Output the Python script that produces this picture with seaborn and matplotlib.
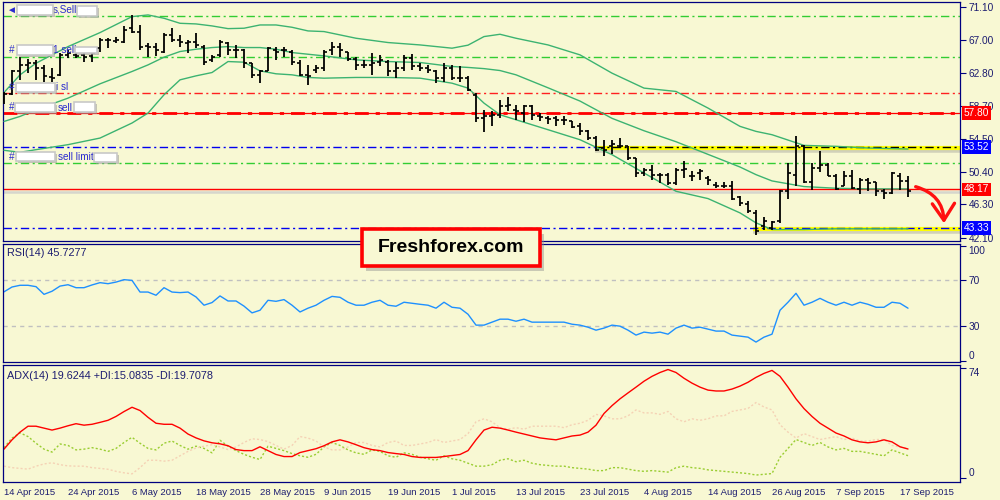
import numpy as np
import pandas as pd
import matplotlib
matplotlib.use("Agg")
import matplotlib.pyplot as plt
import matplotlib.transforms as mtransforms
from matplotlib.patches import Rectangle, FancyArrowPatch
import seaborn as sns

# ---------------- data ----------------
opens = [59.43, 60.10, 62.99, 63.82, 64.03, 63.41, 62.28, 62.57, 65.08, 65.08,
         65.08, 64.95, 65.92, 66.96, 66.88, 66.75, 68.43, 68.01, 66.21, 66.12,
         65.50, 67.59, 66.96, 66.54, 66.75, 66.12, 64.45, 65.08, 66.54, 65.71,
         65.71, 64.03, 62.57, 63.11, 65.71, 65.71, 65.50, 64.03, 62.57, 63.20,
         63.41, 65.71, 66.12, 65.50, 64.54, 63.82, 63.82, 64.24, 64.24, 62.99,
         63.41, 64.66, 63.62, 63.41, 63.11, 62.15, 63.41, 62.15, 62.15, 60.06,
         57.13, 57.34, 57.55, 58.68, 58.18, 57.76, 58.60, 57.42, 57.13, 57.13,
         56.92, 56.71, 56.17, 55.46, 54.62, 53.37, 53.58, 53.66, 53.58, 52.11,
         50.23, 50.65, 50.02, 50.02, 48.98, 50.65, 49.81, 50.23, 49.61, 48.77,
         48.64, 48.56, 47.22, 46.38, 45.21, 43.54, 43.33, 44.17, 47.93, 50.02,
         53.58, 49.06, 50.86, 51.28, 49.90, 48.56, 49.81, 48.23, 49.40, 49.06,
         47.93, 47.72, 49.90, 49.19]
highs = [60.35, 63.20, 64.87, 64.54, 64.45, 63.82, 63.41, 65.29, 65.71, 65.50,
         65.71, 65.71, 67.17, 67.17, 67.38, 68.72, 70.10, 68.84, 66.54, 66.54,
         67.80, 68.43, 67.59, 66.96, 67.80, 66.33, 65.08, 66.96, 66.75, 66.33,
         65.79, 64.03, 63.20, 66.12, 66.12, 66.12, 65.71, 64.45, 63.82, 63.82,
         65.71, 66.75, 66.63, 65.50, 64.87, 64.45, 65.37, 65.08, 64.45, 64.24,
         65.08, 65.20, 64.03, 63.82, 63.20, 64.03, 63.82, 63.62, 62.36, 60.27,
         58.18, 57.97, 59.43, 59.77, 58.81, 58.81, 58.81, 57.76, 57.34, 57.42,
         57.34, 56.71, 56.51, 55.59, 54.83, 54.41, 54.41, 54.62, 53.66, 52.11,
         50.86, 51.28, 50.23, 50.23, 50.86, 51.70, 50.44, 50.73, 49.81, 49.06,
         49.06, 49.19, 47.39, 46.68, 45.55, 44.71, 44.17, 48.14, 51.49, 54.83,
         53.79, 51.49, 52.95, 51.49, 50.15, 50.44, 50.65, 49.61, 49.61, 49.06,
         48.23, 50.31, 50.23, 49.90]
lows = [58.93, 60.06, 61.94, 62.78, 61.94, 61.73, 61.73, 62.36, 64.66, 64.66,
        64.24, 64.24, 65.50, 65.92, 66.54, 66.63, 67.80, 65.71, 64.79, 64.95,
        65.29, 66.75, 66.12, 65.29, 65.92, 63.82, 64.24, 64.87, 65.08, 64.66,
        63.41, 62.15, 61.52, 62.99, 64.45, 64.87, 63.82, 62.36, 61.31, 62.78,
        63.11, 65.08, 64.87, 64.37, 63.20, 63.41, 62.57, 63.62, 62.36, 62.15,
        62.99, 63.20, 62.99, 62.78, 61.52, 61.73, 61.94, 61.73, 60.48, 56.59,
        55.33, 56.09, 57.13, 57.97, 56.92, 56.59, 56.92, 56.71, 56.42, 56.17,
        56.30, 55.88, 55.04, 54.41, 52.95, 52.41, 52.66, 53.37, 51.82, 49.73,
        49.90, 49.40, 48.98, 48.77, 48.77, 49.61, 49.19, 49.40, 48.77, 48.35,
        48.35, 46.89, 46.13, 45.21, 42.49, 43.12, 43.04, 43.96, 46.97, 48.56,
        48.98, 48.14, 50.31, 49.81, 48.14, 48.56, 48.23, 47.64, 47.93, 47.30,
        46.97, 47.60, 48.14, 47.22]
closes = [60.10, 62.99, 63.82, 64.03, 63.41, 62.36, 62.15, 65.08, 65.29, 64.95,
          64.87, 65.29, 66.96, 66.96, 66.96, 68.22, 68.01, 66.12, 66.12, 65.71,
          67.59, 66.96, 66.75, 66.75, 66.33, 64.24, 64.79, 66.75, 65.71, 65.71,
          64.03, 62.57, 62.99, 65.92, 65.50, 65.71, 64.24, 62.57, 62.36, 63.41,
          65.50, 66.12, 65.71, 64.54, 63.82, 63.82, 64.03, 64.45, 62.99, 63.41,
          64.66, 63.62, 63.41, 63.20, 62.15, 63.41, 62.15, 62.15, 60.69, 57.13,
          57.34, 57.55, 58.68, 58.81, 57.97, 58.68, 57.55, 57.26, 57.01, 56.92,
          56.92, 56.00, 55.46, 54.62, 53.16, 53.16, 53.91, 53.58, 52.11, 50.23,
          50.65, 50.02, 50.02, 48.98, 50.65, 50.73, 49.81, 50.44, 49.40, 48.64,
          48.56, 46.97, 46.47, 45.42, 42.91, 44.17, 44.04, 47.93, 50.23, 53.58,
          49.06, 50.86, 51.28, 49.90, 48.23, 49.81, 48.35, 49.40, 48.98, 47.93,
          47.72, 50.23, 49.19, 47.93]

# Bollinger bands (20,2) read at sampled bars
bb_bar = [0, 2, 4, 8, 12, 16, 18, 20, 22, 24, 26, 28, 30, 32, 34, 36, 38, 40, 44,
          48, 52, 56, 58, 60, 62, 64, 68, 72, 76, 80, 84, 88, 92, 94, 96, 100,
          104, 108, 113]
bb_upper = [60.35, 62.57, 64.03, 66.12, 67.88, 69.89, 70.10, 69.68, 69.05, 68.97,
            68.72, 68.38, 68.43, 68.84, 68.84, 68.55, 68.09, 68.01, 67.17, 66.63,
            66.33, 65.92, 66.30, 67.38, 67.67, 67.17, 66.33, 65.08, 62.78, 60.90,
            60.48, 58.39, 56.09, 55.46, 55.04, 53.70, 53.58, 53.37, 53.24]
bb_middle = [56.71, 57.34, 58.18, 59.64, 61.44, 62.99, 63.82, 64.79, 65.50, 65.79,
             66.00, 66.12, 66.00, 66.00, 65.79, 65.37, 65.16, 64.95, 64.45, 64.24,
             64.12, 63.62, 63.50, 63.35, 63.11, 62.57, 60.94, 59.27, 57.10, 55.54,
             54.16, 52.57, 50.98, 50.02, 49.23, 48.52, 48.31, 48.23, 48.23]
bb_lower = [53.08, 52.83, 53.16, 53.79, 54.62, 56.51, 57.76, 60.06, 61.94, 62.44,
            62.86, 64.24, 64.16, 63.07, 62.70, 62.57, 62.24, 62.15, 62.24, 62.24,
            62.15, 61.52, 60.90, 59.01, 57.55, 56.92, 55.67, 54.41, 52.53, 50.23,
            47.93, 47.01, 45.21, 43.96, 43.12, 43.12, 43.21, 43.21, 43.21]

rsi = [60, 64.2, 65.7, 65.7, 64.5, 57.8, 60.5, 65, 66.2, 63.6, 63.6, 66, 68, 67.1,
       68.5, 70.6, 70, 59.8, 59.8, 57, 63.6, 59.8, 59.3, 59.8, 55.5, 48.3, 50.6,
       56.4, 52, 52, 47.5, 41.6, 43.9, 52.6, 51.7, 53.2, 48.3, 42.4,
       45.7, 48.3, 52.6, 56, 55.2, 50.9, 48.3, 48.3, 50.9, 52.6, 48.3, 47.4, 50.9,
       50, 49.1, 48.3, 45.7, 50.9, 46.5, 45.7, 40.4, 30.9, 30.9, 33.5, 36.1, 36.1,
       34.3, 36.1, 33.5, 33.5, 33.5, 33.5, 33.5, 31.7, 30.9, 29.1, 26.5, 28.3,
       30.9, 30, 26.5, 22.2, 24.8, 23.9, 24.8, 23, 28.3, 30.9, 28.3, 29.1, 27.4,
       25.7, 25.7, 22.2, 21.3, 20.4, 16.1, 20.4, 23, 43.9, 50.9, 58.7, 48.3, 50.9,
       54.3, 50.9, 48.3, 50.9, 48.3, 50.9, 49.1, 46.5, 46.5, 50.9, 50, 45.7]

adx = [19.5, 25.8, 31, 35, 35, 33.7, 32.4, 33.7, 35.3, 36.7, 35.7, 36.3, 37.6, 39,
       41.6, 44.9, 47.8, 45.6, 41, 37, 36.3, 36.3, 33.7, 29.7, 27.1, 25.1, 23.8,
       23.1, 21.8, 19.2, 18.5, 18.5, 21.1, 18.5, 15.9, 14.5, 14.5, 17.2,
       18.5, 19.8, 21.8, 24.4, 25.8, 24.4, 22.5, 20.5, 19.2, 18.5, 17.2, 16.5,
       15.9, 14.5, 13.9, 13.9, 13.9, 14.5, 15.2, 15.9, 18.5, 25.8, 32.4, 34.3,
       33.7, 32.4, 31, 29.7, 28.4, 27.1, 26.4, 25.8, 27.1, 28.4, 29, 31, 35.7,
       43.6, 48.9, 53.5, 57.5, 61.4, 65.4, 68.7, 71.3, 73.3, 71.3, 67.4, 64.1,
       61.4, 59.4, 58.8, 58.8, 60.1, 62.1, 64.7, 68, 70.7, 72.7, 68.7, 61.4, 53.5,
       46.9, 41.6, 37, 33.7, 30.4, 28.4, 25.8, 24.4, 23.8, 24.4, 25.8, 24.4, 21.1,
       19.6]
plus_di = [20.5, 27, 30.5, 28, 23.5, 19.5, 17.5, 23, 22, 19, 19.5, 20.5, 19.5, 18,
           20, 24, 27.5, 23.5, 20, 19, 23.5, 25, 22, 19.5, 21.5, 20, 17, 25.5,
           21.5, 18.5, 16, 14, 12.5, 21.5, 20, 18.5, 16.5, 15,
           14, 16, 21, 24, 22, 19, 17, 16, 19, 18, 15, 14, 17, 16, 14, 13, 12, 15,
           13, 12, 10, 8, 8, 9, 12, 13, 11, 12, 10, 9, 8.5, 8, 8, 7, 6.5, 6, 5, 5,
           7, 7, 6, 5, 4.5, 5, 4.5, 4, 7, 8, 7, 6.5, 5.5, 5, 4.5, 4, 3.5, 3, 2,
           2.5, 3, 14, 20, 26, 24, 22, 24, 21, 19, 20, 18, 18, 17, 16, 15, 19, 17,
           15.08]
minus_di = [8, 7, 6.5, 6, 8, 9.5, 10.3, 9, 8.2, 8, 8, 7, 6.5, 5.9, 4.5, 3.5, 2.8, 7,
            12, 12, 11.4, 12, 15, 18, 20.3, 21.5, 22.5, 21, 19.2, 21, 24, 26.5, 26,
            24.6, 22, 19.5, 22, 28,
            27, 25, 21, 19, 19, 21, 24, 24, 22, 21, 24, 25, 22, 22, 23, 24, 26, 24,
            25, 26, 30, 38, 40, 38, 34, 33, 34, 33, 35, 35, 35, 35, 34, 36, 37, 39,
            43, 42, 40, 40, 42, 46, 44, 44, 43, 45, 40, 38, 40, 39, 40, 42, 42, 45,
            46, 47, 51, 48, 46, 36, 31, 27, 30, 28, 26, 27, 28, 26, 27, 25, 25, 26,
            26, 22, 21, 19.71]

date_bars = [0, 8, 16, 24, 32, 40, 48, 56, 64, 72, 80, 88, 96, 104, 112]
date_labels = ["14 Apr 2015", "24 Apr 2015", "6 May 2015", "18 May 2015",
               "28 May 2015", "9 Jun 2015", "19 Jun 2015", "1 Jul 2015",
               "13 Jul 2015", "23 Jul 2015", "4 Aug 2015", "14 Aug 2015",
               "26 Aug 2015", "7 Sep 2015", "17 Sep 2015"]

price_ticks = [71.10, 67.00, 62.80, 58.70, 54.50, 50.40, 46.30, 42.10]
green_levels = [69.93, 64.86, 51.49]
red_dash_level = 60.27
red_levels = [57.80, 48.17]
blue_levels = [53.52, 43.33]
tag_values = [57.80, 53.52, 48.17, 43.33]
tag_colors = ["#FF0000", "#0000FF", "#FF0000", "#0000FF"]

# ---------------- style ----------------
sns.set_style("white")
plt.rcParams["font.family"] = ["Liberation Sans", "DejaVu Sans"]
BG = "#F8F8D3"
NAVY = "#000080"
TXT = "#1C1C70"
DASHDOT = (0, (6, 2.5, 1.5, 2.5))

bars = pd.DataFrame({"bar": np.arange(len(opens)), "open": opens, "high": highs,
                     "low": lows, "close": closes})
bands = pd.DataFrame({"bar": bb_bar, "upper": bb_upper, "middle": bb_middle,
                      "lower": bb_lower})
ind = pd.DataFrame({"bar": np.arange(len(rsi)), "rsi": rsi, "adx": adx,
                    "pdi": plus_di, "mdi": minus_di})

fig = plt.figure(figsize=(10, 5), dpi=100, facecolor=BG)


def fpx(x0, y0, x1, y1):
    return [x0 / 1000, 1 - y1 / 500, (x1 - x0) / 1000, (y1 - y0) / 500]


ax = fig.add_axes(fpx(2.5, 2, 960, 240.5))
ax_r = fig.add_axes(fpx(2.5, 243.5, 960, 362))
ax_a = fig.add_axes(fpx(2.5, 364.5, 960, 482))

XL = (-0.19, 119.5)
for a in (ax, ax_r, ax_a):
    a.set_facecolor(BG)
    a.set_xlim(*XL)
    for s in a.spines.values():
        s.set_color(NAVY)
        s.set_linewidth(0.9)
    a.yaxis.tick_right()
    a.tick_params(axis="y", direction="out", length=4, color=NAVY,
                  labelcolor=TXT, labelsize=7.3, pad=2)
    a.set_xlabel("")
    a.set_ylabel("")

# ---------------- price pane ----------------
ax.set_ylim(41.74, 71.727)
for lv in green_levels:
    ax.axhline(lv, color="#32CD32", lw=1, ls=DASHDOT, zorder=1)
ax.axhline(red_dash_level, color="#FF2020", lw=1, ls=DASHDOT, zorder=1)
ax.axhline(red_levels[0], color="#FF0000", lw=0.9, zorder=1)
ax.axhline(red_levels[0], color="#FF0000", lw=2.0, ls=(0, (5, 2.5, 1.5, 2.5)), zorder=1)
ax.axhline(red_levels[1] - 0.28, color="#D6D6CC", lw=1.8, zorder=1)
ax.axhline(red_levels[1], color="#FF0000", lw=1, zorder=2)

# 53.52 : blue dash-dot then black dash-dot on a yellow band
ax.hlines(blue_levels[0], XL[0], 73.9, color="#0000F0", lw=1, ls=DASHDOT, zorder=1)
ax.hlines(blue_levels[0] - 0.35, 73.9, XL[1], color="#B8B8A8", lw=4, alpha=0.6, zorder=1)
ax.hlines(blue_levels[0] - 0.12, 73.9, XL[1], color="#FFFF00", lw=3.0, zorder=1)
ax.hlines(blue_levels[0], 73.9, XL[1], color="black", lw=1, ls=DASHDOT, zorder=2)
# 43.33 : blue dash-dot with yellow band on the right
ax.hlines(blue_levels[1] - 0.35, 93.6, XL[1], color="#B8B8A8", lw=4, alpha=0.6, zorder=1)
ax.hlines(blue_levels[1] - 0.15, 93.6, XL[1], color="#FFFF00", lw=3.0, zorder=1)
ax.axhline(blue_levels[1], color="#0000F0", lw=1, ls=DASHDOT, zorder=2)

# Bollinger bands
for col in ("upper", "middle", "lower"):
    sns.lineplot(data=bands, x="bar", y=col, ax=ax, color="#3CB371", lw=1,
                 zorder=3, legend=False)

# OHLC bars
ax.vlines(bars["bar"], bars["low"], bars["high"], color="black", lw=1.3, zorder=4)
ax.hlines(bars["open"], bars["bar"] - 0.4, bars["bar"], color="black", lw=1.2, zorder=4)
ax.hlines(bars["close"], bars["bar"], bars["bar"] + 0.4, color="black", lw=1.2, zorder=4)

ax.set_xticks([])
ax.set_yticks(price_ticks)
ax.set_yticklabels([f"{v:.2f}" for v in price_ticks])
ax.set_xlabel("")
ax.set_ylabel("")

btrans = mtransforms.blended_transform_factory(ax.transAxes, ax.transData)
for v, c in zip(tag_values, tag_colors):
    ax.text(1.004, v, f"{v:.2f}", transform=btrans, ha="left", va="center",
            color="white", fontsize=7.3, zorder=30, clip_on=False,
            bbox=dict(facecolor=c, edgecolor="none", pad=1.3))

# ---------------- RSI pane ----------------
ax_r.set_ylim(-1.3, 102.2)
ax_r.axhline(70, color="#C0C0C0", lw=1, ls=(0, (3, 3)))
ax_r.axhline(30, color="#C0C0C0", lw=1, ls=(0, (3, 3)))
sns.lineplot(data=ind, x="bar", y="rsi", ax=ax_r, color="#1E90FF", lw=1, legend=False)
ax_r.set_xticks([])
ax_r.set_yticks([100, 70, 30, 0])
ax_r.set_yticklabels(["100", "70", "30", "0"])
lbls = ax_r.get_yticklabels()
lbls[0].set_va("top")
lbls[3].set_va("bottom")
ax_r.set_xlabel("")
ax_r.set_ylabel("")
ax_r.text(0.005, 0.92, "RSI(14) 45.7277", transform=ax_r.transAxes, color=TXT,
          fontsize=7.8, ha="left", va="center")

# ---------------- ADX pane ----------------
ax_a.set_ylim(-2.7, 76.7)
sns.lineplot(data=ind, x="bar", y="pdi", ax=ax_a, color="#9ACD32", lw=1,
             linestyle=(0, (1.5, 1.5)), legend=False)
sns.lineplot(data=ind, x="bar", y="mdi", ax=ax_a, color="#F5D2B5", lw=1,
             linestyle=(0, (1.5, 1.5)), legend=False)
sns.lineplot(data=ind, x="bar", y="adx", ax=ax_a, color="#FF0000", lw=1, legend=False)
ax_a.set_yticks([74, 0])
ax_a.set_yticklabels(["74", "0"])
al = ax_a.get_yticklabels()
al[0].set_va("top")
al[1].set_va("bottom")
ax_a.set_xticks(date_bars)
ax_a.set_xticklabels(date_labels, ha="left")
ax_a.tick_params(axis="x", direction="out", length=3, color=NAVY,
                 labelcolor=TXT, labelsize=6.8, pad=1.5)
ax_a.set_xlabel("")
ax_a.set_ylabel("")
ax_a.text(0.005, 0.9, "ADX(14) 19.6244 +DI:15.0835 -DI:19.7078",
          transform=ax_a.transAxes, color=TXT, fontsize=7.8, ha="left", va="center")

# ---------------- order labels with redaction boxes ----------------
LBL = "#2A2AD0"


def ptext(x, y, s, **kw):
    fig.text(x / 1000, 1 - y / 500, s, ha="left", va="center", color=LBL,
             fontsize=7.2, zorder=40, **kw)


def wbox(x0, x1, yc, h=9):
    fig.add_artist(Rectangle((x0 / 1000 + 0.002, 1 - (yc + h / 2 + 2) / 500),
                             (x1 - x0) / 1000, h / 500, transform=fig.transFigure,
                             facecolor="#9A9A9A", edgecolor="none", alpha=0.55,
                             zorder=41))
    fig.add_artist(Rectangle((x0 / 1000, 1 - (yc + h / 2) / 500),
                             (x1 - x0) / 1000, h / 500, transform=fig.transFigure,
                             facecolor="white", edgecolor="#C8C8C8", lw=1.2,
                             zorder=42))


ptext(6, 10, "\u25c4")
ptext(53, 10, "s,Sell")
wbox(17, 53, 10)
wbox(77, 97, 11)

ptext(9, 50, "#")
ptext(53, 50, "1 sell")
wbox(17, 53, 50)
wbox(75, 97, 50, h=6)

ptext(9, 87, "#")
ptext(56, 87, "i sl")
wbox(16, 55, 87)

ptext(9, 107, "#")
ptext(58, 108, "sell")
wbox(15, 55, 107)
wbox(74, 95, 107, h=10)

ptext(9, 157, "#")
ptext(58, 157, "sell limit")
wbox(16, 55, 156)
wbox(94, 117, 157)

# ---------------- Freshforex box ----------------
fig.add_artist(Rectangle((366 / 1000, 1 - 271 / 500), 178 / 1000, 37 / 500,
                         transform=fig.transFigure, facecolor="#909090",
                         edgecolor="none", alpha=0.45, zorder=49))
fig.add_artist(Rectangle((362 / 1000, 1 - 266 / 500), 178 / 1000, 37 / 500,
                         transform=fig.transFigure, facecolor=BG,
                         edgecolor="#FF0000", lw=2.6, zorder=50))
fig.text(451 / 1000, 1 - 248 / 500, "Freshforex.com", ha="center", va="center",
         color="black", fontsize=14, fontweight="bold", zorder=51,
         family=["Liberation Sans", "DejaVu Sans"])

# ---------------- red arrow ----------------
arr = FancyArrowPatch(posA=(913 / 1000, 1 - 186 / 500), posB=(944 / 1000, 1 - 226 / 500),
                      transform=fig.transFigure, connectionstyle="arc3,rad=-0.4",
                      arrowstyle="->,head_length=0.6,head_width=0.4",
                      mutation_scale=20, color="#FF1010", lw=2.4, zorder=45)
fig.add_artist(arr)

fig.savefig("out.png", dpi=100, facecolor=BG)
